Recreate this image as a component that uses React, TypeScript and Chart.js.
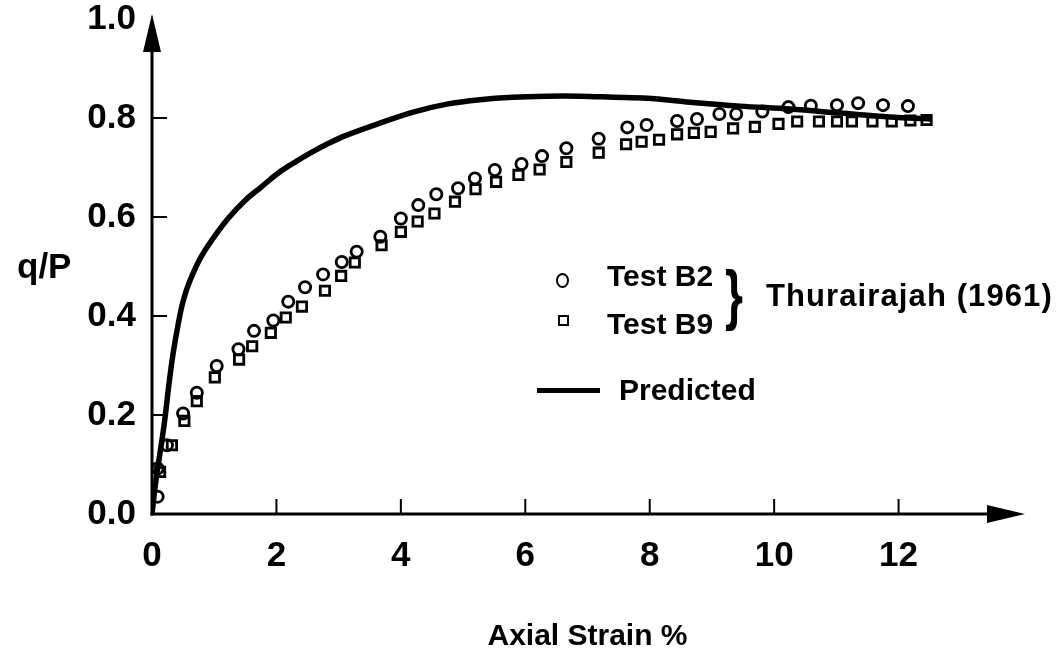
import React, { useEffect, useRef } from "react";
import { Chart, registerables } from "chart.js";

Chart.register(...registerables);

const FONT = '"Liberation Sans", Arial, Helvetica, sans-serif';

const X_TICKS = [0, 2, 4, 6, 8, 10, 12];
const Y_TICKS = [0, 0.2, 0.4, 0.6, 0.8, 1.0];
const X_MAX = 14;
const Y_MAX = 1.0;
const X_TITLE = "Axial Strain %";
const Y_TITLE = "q/P";
const SERIES_B2 = "Test B2";
const SERIES_B9 = "Test B9";
const SERIES_PRED = "Predicted";
const SOURCE = "Thurairajah (1961)";

// Test B2 (circles)
const B2_X = [0.09, 0.09, 0.24, 0.5, 0.72, 1.04, 1.39, 1.64, 1.95, 2.19, 2.46, 2.75, 3.05, 3.29, 3.67, 4.0, 4.28, 4.57, 4.92, 5.19, 5.51, 5.94, 6.27, 6.66, 7.18, 7.64, 7.95, 8.44, 8.76, 9.12, 9.39, 9.81, 10.23, 10.59, 11.01, 11.35, 11.75, 12.15];
const B2_Y = [0.035, 0.092, 0.139, 0.203, 0.245, 0.299, 0.333, 0.37, 0.391, 0.429, 0.458, 0.484, 0.509, 0.53, 0.56, 0.597, 0.624, 0.646, 0.658, 0.678, 0.695, 0.707, 0.723, 0.739, 0.758, 0.781, 0.786, 0.794, 0.798, 0.808, 0.808, 0.813, 0.822, 0.825, 0.826, 0.83, 0.826, 0.824];

// Test B9 (squares)
const B9_X = [0.13, 0.32, 0.52, 0.72, 1.01, 1.4, 1.61, 1.91, 2.15, 2.41, 2.78, 3.04, 3.26, 3.69, 4.0, 4.27, 4.54, 4.87, 5.2, 5.53, 5.89, 6.23, 6.66, 7.18, 7.62, 7.87, 8.15, 8.44, 8.71, 8.98, 9.34, 9.69, 10.07, 10.37, 10.72, 11.01, 11.25, 11.58, 11.89, 12.19, 12.45];
const B9_Y = [0.085, 0.139, 0.188, 0.228, 0.276, 0.312, 0.339, 0.366, 0.397, 0.419, 0.451, 0.481, 0.508, 0.543, 0.57, 0.591, 0.607, 0.631, 0.656, 0.671, 0.685, 0.696, 0.711, 0.73, 0.747, 0.752, 0.756, 0.767, 0.77, 0.772, 0.779, 0.782, 0.788, 0.793, 0.793, 0.793, 0.793, 0.793, 0.793, 0.795, 0.796];

// Predicted curve
const PRED_X = [0, 0.05, 0.1, 0.155, 0.21, 0.27, 0.34, 0.42, 0.5, 0.6, 0.77, 0.96, 1.23, 1.5, 1.76, 2.03, 2.3, 2.57, 2.84, 3.1, 3.67, 4.2, 4.74, 5.27, 5.8, 6.35, 6.88, 7.41, 7.96, 8.65, 9.45, 10.26, 11.06, 11.86, 12.51];
const PRED_Y = [0, 0.055, 0.1, 0.145, 0.195, 0.26, 0.325, 0.383, 0.43, 0.468, 0.515, 0.553, 0.598, 0.634, 0.661, 0.689, 0.711, 0.731, 0.749, 0.764, 0.79, 0.812, 0.828, 0.837, 0.842, 0.844, 0.844, 0.842, 0.84, 0.832, 0.824, 0.818, 0.81, 0.802, 0.798];

const toPts = (xs: number[], ys: number[]) => xs.map((x, i) => ({ x, y: ys[i] }));

const zeroPad = (s: any) => {
  s.paddingTop = 0;
  s.paddingBottom = 0;
  s.paddingLeft = 0;
  s.paddingRight = 0;
};

export default function App() {
  const ref = useRef<HTMLCanvasElement>(null);

  useEffect(() => {
    const canvas = ref.current!;

    const axesPlugin = {
      id: "arrowAxes",
      afterDatasetsDraw(chart: any) {
        const { ctx } = chart;
        const xs = chart.scales.x;
        const ys = chart.scales.y;
        const x0 = xs.getPixelForValue(0);
        const y0 = ys.getPixelForValue(0);
        ctx.save();
        ctx.strokeStyle = "#000";
        ctx.fillStyle = "#000";
        ctx.lineWidth = 3;
        // y axis with arrow
        const yTip = ys.top - 5;
        ctx.beginPath();
        ctx.moveTo(x0, y0 + 1.5);
        ctx.lineTo(x0, yTip + 30);
        ctx.stroke();
        ctx.beginPath();
        ctx.moveTo(x0, yTip);
        ctx.lineTo(x0 - 9, yTip + 38);
        ctx.lineTo(x0 + 9, yTip + 38);
        ctx.closePath();
        ctx.fill();
        // x axis with arrow
        const xTip = xs.right + 2;
        ctx.beginPath();
        ctx.moveTo(x0 - 1.5, y0);
        ctx.lineTo(xTip - 30, y0);
        ctx.stroke();
        ctx.beginPath();
        ctx.moveTo(xTip, y0);
        ctx.lineTo(xTip - 38, y0 - 9);
        ctx.lineTo(xTip - 38, y0 + 9);
        ctx.closePath();
        ctx.fill();
        // inward tick marks
        ctx.lineWidth = 2;
        Y_TICKS.filter((v) => v > 0 && v < Y_MAX).forEach((v) => {
          const py = ys.getPixelForValue(v);
          ctx.beginPath();
          ctx.moveTo(x0, py);
          ctx.lineTo(x0 + 15, py);
          ctx.stroke();
        });
        X_TICKS.filter((v) => v > 0).forEach((v) => {
          const px = xs.getPixelForValue(v);
          ctx.beginPath();
          ctx.moveTo(px, y0);
          ctx.lineTo(px, y0 - 15);
          ctx.stroke();
        });
        ctx.restore();
      },
    };

    const tickFont = { family: FONT, size: 35, weight: "bold" as const };

    const chart = new Chart(canvas, {
      type: "scatter",
      data: {
        datasets: [
          {
            label: SERIES_PRED,
            data: toPts(PRED_X, PRED_Y),
            showLine: true,
            borderColor: "#000",
            borderWidth: 5.5,
            pointRadius: 0,
            tension: 0.35,
            fill: false,
          } as any,
          {
            label: SERIES_B2,
            data: toPts(B2_X, B2_Y),
            pointStyle: "circle",
            pointRadius: 5.6,
            borderWidth: 2.8,
            borderColor: "#000",
            backgroundColor: "rgba(0,0,0,0)",
          },
          {
            label: SERIES_B9,
            data: toPts(B9_X, B9_Y),
            pointStyle: "rect",
            pointRadius: 6.6,
            borderWidth: 2.8,
            borderColor: "#000",
            backgroundColor: "rgba(0,0,0,0)",
          },
        ],
      },
      options: {
        animation: false,
        responsive: false,
        devicePixelRatio: 1,
        events: [],
        layout: { padding: { top: 19, right: 34, left: 0, bottom: 0 } },
        plugins: { legend: { display: false }, tooltip: { enabled: false } },
        scales: {
          x: {
            type: "linear",
            min: 0,
            max: X_MAX,
            afterBuildTicks: (s: any) => {
              s.ticks = X_TICKS.map((v) => ({ value: v }));
            },
            afterFit: (s: any) => {
              s.height = 147;
              zeroPad(s);
            },
            ticks: {
              font: tickFont,
              color: "#000",
              padding: 21,
              maxRotation: 0,
              autoSkip: false,
              callback: (v: any) => String(v),
            },
            grid: { display: false, drawTicks: false },
            border: { display: false },
            title: {
              display: true,
              text: X_TITLE,
              color: "#000",
              font: { family: FONT, size: 30, weight: "bold" },
              padding: { top: 0, bottom: 6 },
            },
          },
          y: {
            type: "linear",
            min: 0,
            max: Y_MAX,
            afterBuildTicks: (s: any) => {
              s.ticks = Y_TICKS.map((v) => ({ value: v }));
            },
            afterFit: (s: any) => {
              s.width = 152;
              zeroPad(s);
            },
            ticks: {
              font: tickFont,
              color: "#000",
              padding: 16,
              autoSkip: false,
              callback: (v: any) => Number(v).toFixed(1),
            },
            grid: { display: false, drawTicks: false },
            border: { display: false },
          },
        },
      },
      plugins: [axesPlugin],
    });
    return () => chart.destroy();
  }, []);

  const txt: React.CSSProperties = {
    position: "absolute",
    fontWeight: 700,
    fontSize: 30,
    lineHeight: "30px",
    whiteSpace: "nowrap",
    color: "#000",
  };

  return (
    <div
      style={{
        position: "fixed",
        left: 0,
        top: 0,
        width: 1057,
        height: 661,
        background: "#fff",
        fontFamily: FONT,
        overflow: "hidden",
      }}
    >
      <canvas ref={ref} width={1057} height={661} style={{ position: "absolute", left: 0, top: 0 }} />
      <div style={{ ...txt, left: 17, top: 248, fontSize: 35, lineHeight: "35px" }}>{Y_TITLE}</div>
      {/* legend */}
      <span
        style={{
          position: "absolute",
          left: 556,
          top: 273,
          width: 13,
          height: 15,
          boxSizing: "border-box",
          border: "2.8px solid #000",
          borderRadius: "50%",
        }}
      />
      <div style={{ ...txt, left: 607, top: 261 }}>{SERIES_B2}</div>
      <span
        style={{
          position: "absolute",
          left: 558,
          top: 315,
          width: 11,
          height: 11,
          boxSizing: "border-box",
          border: "2.8px solid #000",
        }}
      />
      <div style={{ ...txt, left: 607, top: 309 }}>{SERIES_B9}</div>
      <div
        style={{
          position: "absolute",
          left: 725,
          top: 261,
          fontSize: 66,
          lineHeight: "66px",
          fontWeight: 700,
          transform: "scaleX(0.7)",
          transformOrigin: "left top",
        }}
      >
        {"}"}
      </div>
      <div style={{ ...txt, left: 766, top: 281, fontSize: 31, letterSpacing: 1.1 }}>{SOURCE}</div>
      <span style={{ position: "absolute", left: 537, top: 388, width: 63, height: 5, background: "#000" }} />
      <div style={{ ...txt, left: 619, top: 375 }}>{SERIES_PRED}</div>
    </div>
  );
}
